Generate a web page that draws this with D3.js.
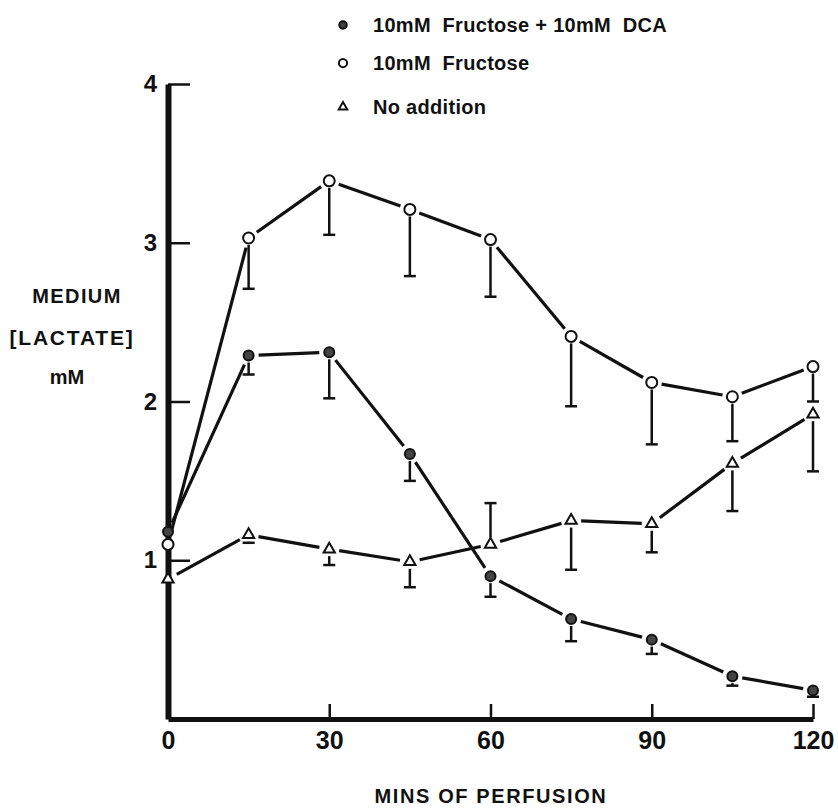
<!DOCTYPE html>
<html>
<head>
<meta charset="utf-8">
<script src="https://cdnjs.cloudflare.com/ajax/libs/d3/7.8.5/d3.min.js"></script>
<style>
  body { margin: 0; background: #fff; }
  text { font-family: "Liberation Sans", Arial, sans-serif; font-weight: bold; fill: #111; }
</style>
</head>
<body>
<div id="chart"></div>
<script>
// data
var minutes = [0, 15, 30, 45, 60, 75, 90, 105, 120];

var dcaValues    = [1.18, 2.29, 2.31, 1.67, 0.90, 0.63, 0.50, 0.27, 0.18];
var dcaErrEnd    = [null, 2.17, 2.02, 1.50, 0.77, 0.49, 0.41, 0.21, 0.14];

var fructValues  = [1.10, 3.03, 3.39, 3.21, 3.02, 2.41, 2.12, 2.03, 2.22];
var fructErrEnd  = [null, 2.71, 3.05, 2.79, 2.66, 1.97, 1.73, 1.75, 2.00];

var noAddValues  = [0.88, 1.16, 1.07, 0.99, 1.10, 1.25, 1.23, 1.61, 1.92];
var noAddErrEnd  = [null, 1.11, 0.97, 0.83, 1.36, 0.94, 1.05, 1.31, 1.56];

var legendLabels = ["10mM  Fructose + 10mM  DCA", "10mM  Fructose", "No addition"];
var yTicks = [1, 2, 3, 4];
var xTicks = [0, 30, 60, 90, 120];

// svg size
var svgWidth = 838;
var svgHeight = 811;

var svg = d3.select("#chart")
  .append("svg")
  .attr("width", svgWidth)
  .attr("height", svgHeight);

svg.append("rect")
  .attr("width", svgWidth)
  .attr("height", svgHeight)
  .attr("fill", "#fff");

// scales
var x = d3.scaleLinear().domain([0, 120]).range([168, 813]);
var y = d3.scaleLinear().domain([0, 4]).range([719, 84]);

// y axis (ticks point inward)
var yAxis = d3.axisLeft(y)
  .tickValues(yTicks)
  .tickSizeInner(-22)
  .tickSizeOuter(0)
  .tickPadding(11)
  .tickFormat(d3.format("d"));

var yG = svg.append("g")
  .attr("transform", "translate(" + x(0) + ",0)")
  .call(yAxis);
yG.select(".domain").attr("stroke", "#111").attr("stroke-width", 6);
yG.selectAll(".tick line").attr("stroke", "#111").attr("stroke-width", 2.5);
yG.selectAll(".tick text")
  .attr("font-size", 24)
  .attr("font-family", "Liberation Sans, Arial, sans-serif")
  .attr("font-weight", "bold")
  .attr("fill", "#111");

// x axis
var xAxis = d3.axisBottom(x)
  .tickValues(xTicks)
  .tickSizeInner(-15)
  .tickSizeOuter(0)
  .tickPadding(12);

var xG = svg.append("g")
  .attr("transform", "translate(0," + y(0) + ")")
  .call(xAxis);
xG.select(".domain").attr("stroke", "#111").attr("stroke-width", 5);
xG.selectAll(".tick line").attr("stroke", "#111").attr("stroke-width", 2.5);
xG.selectAll(".tick text")
  .attr("font-size", 25)
  .attr("font-family", "Liberation Sans, Arial, sans-serif")
  .attr("font-weight", "bold")
  .attr("fill", "#111");

// axis titles
var yTitle = svg.append("g");
yTitle.append("text").attr("x", 77).attr("y", 303).attr("text-anchor", "middle")
  .attr("font-size", 20).attr("letter-spacing", 1.4).text("MEDIUM");
yTitle.append("text").attr("x", 72).attr("y", 345).attr("text-anchor", "middle")
  .attr("font-size", 21).attr("letter-spacing", 1.8).text("[LACTATE]");
yTitle.append("text").attr("x", 67).attr("y", 384).attr("text-anchor", "middle")
  .attr("font-size", 20).text("mM");

svg.append("text")
  .attr("x", 491)
  .attr("y", 803)
  .attr("text-anchor", "middle")
  .attr("font-size", 20)
  .attr("letter-spacing", 1.6)
  .text("MINS OF PERFUSION");

// series
var series = [
  { name: "dca", values: dcaValues, err: dcaErrEnd },
  { name: "fruct", values: fructValues, err: fructErrEnd },
  { name: "noadd", values: noAddValues, err: noAddErrEnd }
];

var plot = svg.append("g");

// connecting lines, trimmed so they stop short of the markers
series.forEach(function(s) {
  var pts = minutes.map(function(m, i) { return [x(m), y(s.values[i])]; });
  for (var i = 0; i < pts.length - 1; i++) {
    var p1 = pts[i], p2 = pts[i + 1];
    var dx = p2[0] - p1[0], dy = p2[1] - p1[1];
    var len = Math.sqrt(dx * dx + dy * dy);
    var g = 10;
    plot.append("line")
      .attr("x1", p1[0] + dx / len * g)
      .attr("y1", p1[1] + dy / len * g)
      .attr("x2", p2[0] - dx / len * g)
      .attr("y2", p2[1] - dy / len * g)
      .attr("stroke", "#111")
      .attr("stroke-width", 3.2)
      .attr("stroke-linecap", "butt");
  }
});

// error bars
series.forEach(function(s) {
  minutes.forEach(function(m, i) {
    if (s.err[i] == null) return;
    var cx = x(m), cy = y(s.values[i]), ey = y(s.err[i]);
    var dir = ey > cy ? 1 : -1;
    plot.append("line")
      .attr("x1", cx).attr("x2", cx)
      .attr("y1", cy + dir * 7).attr("y2", ey)
      .attr("stroke", "#111").attr("stroke-width", 2.5);
    plot.append("line")
      .attr("x1", cx - 6).attr("x2", cx + 6)
      .attr("y1", ey).attr("y2", ey)
      .attr("stroke", "#111").attr("stroke-width", 2.5);
  });
});

// markers
function drawMarker(g, name, cx, cy, scale) {
  if (name === "dca") {
    g.append("circle").attr("cx", cx).attr("cy", cy).attr("r", 5 * scale)
      .attr("fill", "#444").attr("stroke", "#111").attr("stroke-width", 2);
  } else if (name === "fruct") {
    g.append("circle").attr("cx", cx).attr("cy", cy).attr("r", 5.5 * scale)
      .attr("fill", "#fff").attr("stroke", "#111").attr("stroke-width", 2);
  } else {
    g.append("path")
      .attr("d", d3.symbol().type(d3.symbolTriangle).size(55 * scale * scale)())
      .attr("transform", "translate(" + cx + "," + cy + ")")
      .attr("fill", "#fff").attr("stroke", "#111").attr("stroke-width", 2);
  }
}

series.forEach(function(s) {
  minutes.forEach(function(m, i) {
    drawMarker(plot, s.name, x(m), y(s.values[i]), 1);
  });
});

// legend
var legend = svg.append("g");
series.forEach(function(s, i) {
  var ly = [25, 63, 107][i];
  drawMarker(legend, s.name, 343, ly, 0.75);
  legend.append("text")
    .attr("x", 373)
    .attr("y", ly + 7)
    .attr("font-size", 20)
    .attr("letter-spacing", 0.3)
    .attr("xml:space", "preserve")
    .style("white-space", "pre")
    .text(legendLabels[i]);
});
</script>
</body>
</html>
